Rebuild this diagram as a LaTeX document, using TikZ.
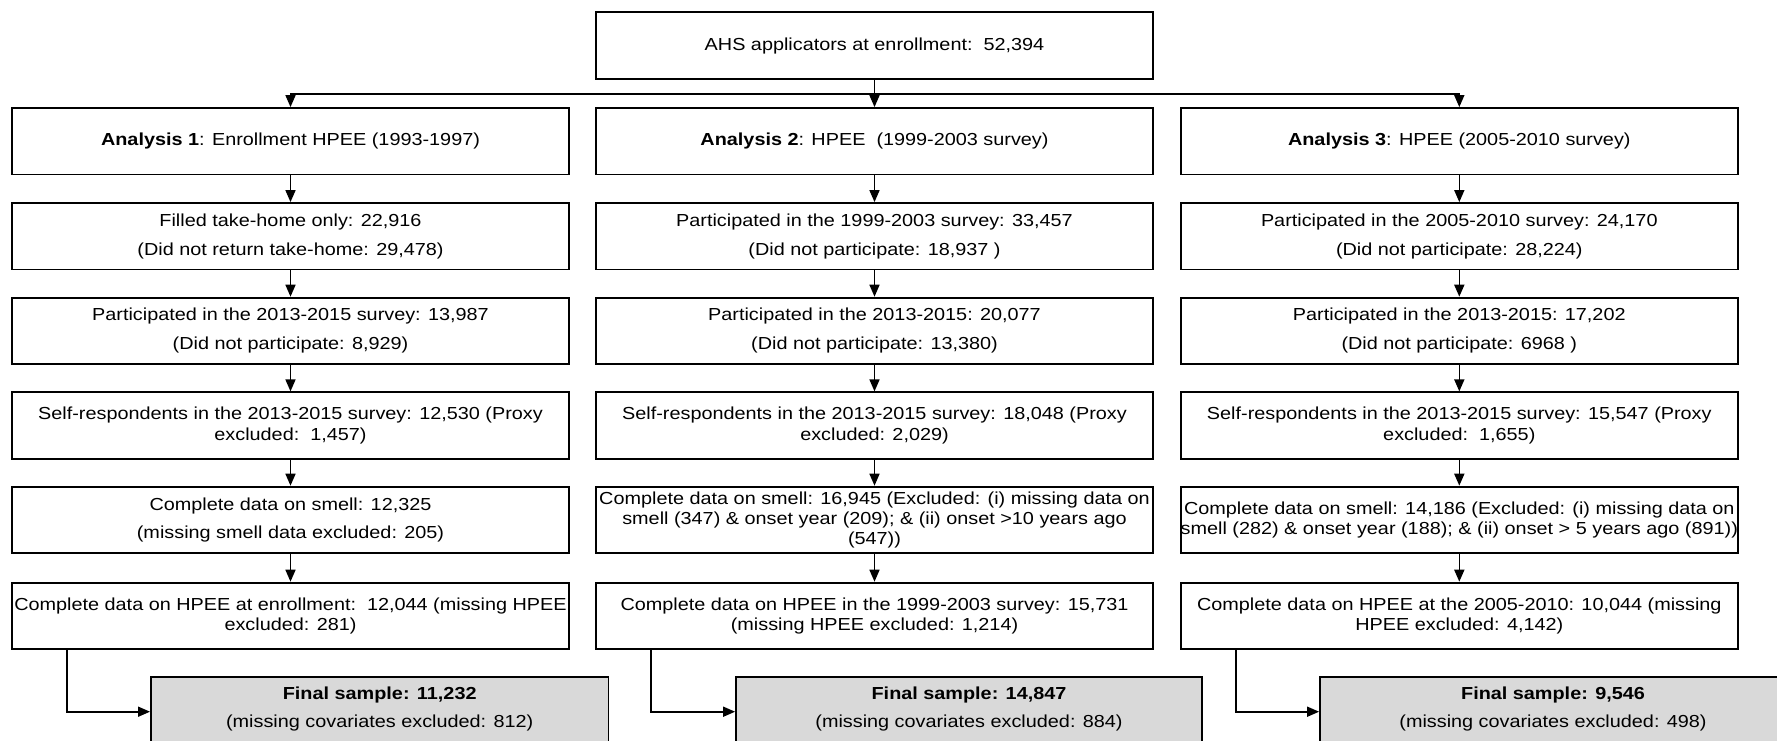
\documentclass[tikz,border=0pt]{standalone}
\usepackage{fontspec}
\setmainfont{Liberation Sans}[FakeStretch=1.14]
\usetikzlibrary{arrows.meta}
\definecolor{finalgray}{RGB}{217,217,217}
\newcommand{\fsC}{\fontsize{17.4pt}{20.3pt}\selectfont}
\newcommand{\fsW}{\fontsize{17.4pt}{29pt}\selectfont}
\newcommand{\fsF}{\fontsize{17.4pt}{28pt}\selectfont}
\begin{document}
\begin{tikzpicture}[x=1pt,y=-1pt,
  box/.style={draw=black, line width=1.8pt, minimum width=557pt, minimum height=66.4pt, inner sep=0pt, align=center, font=\fsC},
  widebox/.style={box, font=\fsW},
  ftxt/.style={inner sep=0pt, align=center, font=\fsF},
  finalbox/.style={draw=black, line width=1.8pt, fill=finalgray, minimum height=70pt, inner sep=0pt},
  arr/.style={line width=1.6pt, -{Triangle[length=12pt,width=10pt]}}]
\clip (0,0) rectangle (1777,741);
\fill[white] (0,0) rectangle (1777,741);

% top
\node[box, minimum height=67pt] (top) at (874.5,45.8) {AHS applicators at enrollment:\ \ 52,394};

% row 1
\node[box] (r1c1) at (290.5,141.2) {\textbf{Analysis 1}: Enrollment HPEE (1993-1997)};
\node[box] (r1c2) at (874.5,141.2) {\textbf{Analysis 2}: HPEE\ \ (1999-2003 survey)};
\node[box] (r1c3) at (1459.3,141.2) {\textbf{Analysis 3}: HPEE (2005-2010 survey)};

% row 2
\node[widebox] (r2c1) at (290.5,236.2) {Filled take-home only: 22,916\\(Did not return take-home: 29,478)};
\node[widebox] (r2c2) at (874.5,236.2) {Participated in the 1999-2003 survey: 33,457\\(Did not participate: 18,937 )};
\node[widebox] (r2c3) at (1459.3,236.2) {Participated in the 2005-2010 survey: 24,170\\(Did not participate: 28,224)};

% row 3
\node[widebox] (r3c1) at (290.5,330.8) {Participated in the 2013-2015 survey: 13,987\\(Did not participate: 8,929)};
\node[widebox] (r3c2) at (874.5,330.8) {Participated in the 2013-2015: 20,077\\(Did not participate: 13,380)};
\node[widebox] (r3c3) at (1459.3,330.8) {Participated in the 2013-2015: 17,202\\(Did not participate: 6968 )};

% row 4
\node[box] (r4c1) at (290.5,425.5) {Self-respondents in the 2013-2015 survey: 12,530 (Proxy\\excluded:\ \ 1,457)};
\node[box] (r4c2) at (874.5,425.5) {Self-respondents in the 2013-2015 survey: 18,048 (Proxy\\excluded: 2,029)};
\node[box] (r4c3) at (1459.3,425.5) {Self-respondents in the 2013-2015 survey: 15,547 (Proxy\\excluded:\ \ 1,655)};

% row 5
\node[widebox, font=\fontsize{17.4pt}{28.3pt}\selectfont] (r5c1) at (290.5,519.8) {Complete data on smell: 12,325\\(missing smell data excluded: 205)};
\node[box] (r5c2) at (874.5,519.8) {Complete data on smell: 16,945 (Excluded: (i) missing data on\\smell (347) \& onset year (209); \& (ii) onset >10 years ago\\(547))};
\node[box] (r5c3) at (1459.3,519.8) {Complete data on smell: 14,186 (Excluded: (i) missing data on\\smell (282) \& onset year (188); \& (ii) onset > 5 years ago (891))};

% row 6
\node[box] (r6c1) at (290.5,615.8) {Complete data on HPEE at enrollment:\ \ 12,044 (missing HPEE\\excluded: 281)};
\node[box] (r6c2) at (874.5,615.8) {Complete data on HPEE in the 1999-2003 survey: 15,731\\(missing HPEE excluded: 1,214)};
\node[box] (r6c3) at (1459.3,615.8) {Complete data on HPEE at the 2005-2010: 10,044 (missing\\HPEE excluded: 4,142)};

% final
\node[finalbox, minimum width=457.5pt] (f1) at (379.7,711.7) {};
\node[finalbox, minimum width=466pt] (f2) at (969,711.7) {};
\node[finalbox, minimum width=466pt] (f3) at (1553,711.7) {};
\node[ftxt] (f1t) at (379.7,708.5) {\textbf{Final sample: 11,232}\\(missing covariates excluded: 812)};
\node[ftxt] (f2t) at (969,708.5) {\textbf{Final sample: 14,847}\\(missing covariates excluded: 884)};
\node[ftxt] (f3t) at (1553,708.5) {\textbf{Final sample: 9,546}\\(missing covariates excluded: 498)};

% connectors
\coordinate (split) at (874.5,94);
\draw[arr] (top) -- (r1c2);
\draw[arr] (split) -| (r1c1.north);
\draw[arr] (split) -| (r1c3.north);
\foreach \c in {1,2,3}{
  \draw[arr] (r1c\c) -- (r2c\c);
  \draw[arr] (r2c\c) -- (r3c\c);
  \draw[arr] (r3c\c) -- (r4c\c);
  \draw[arr] (r4c\c) -- (r5c\c);
  \draw[arr] (r5c\c) -- (r6c\c);
  \draw[arr] ([xshift=56pt]r6c\c.south west) |- (f\c.west);
}
\end{tikzpicture}
\end{document}
